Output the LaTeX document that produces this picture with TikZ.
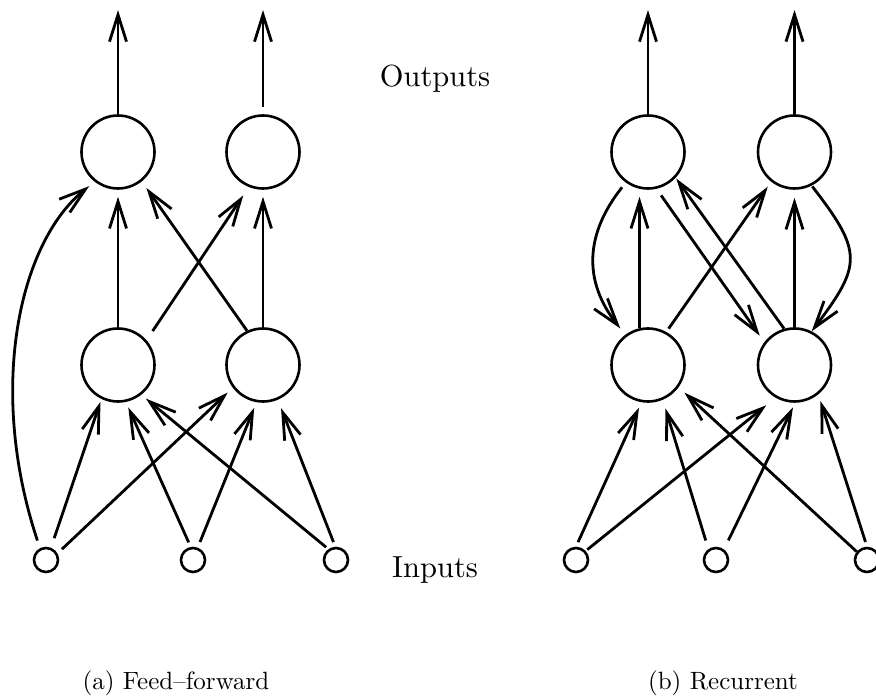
\documentclass[tikz,border=0pt]{standalone}
\usepackage{graphicx}
\usetikzlibrary{arrows.meta}

\tikzset{
  unit/.style={circle, draw, line width=2.6pt, minimum size=73pt, inner sep=0pt},
  inp/.style={circle, draw, line width=2.6pt, minimum size=24pt, inner sep=0pt},
  conn/.style={line width=2.8pt, -{Straight Barb[length=27pt,width=17pt]}},
  lbl/.style={inner sep=0pt, anchor=base},
}

\begin{document}
\begin{tikzpicture}[x=1pt, y=-1pt]
\useasboundingbox (0,0) rectangle (876,700);

% ---------- (a) feed-forward network ----------
\node[unit] (lO1) at (118,152) {};
\node[unit] (lO2) at (263,152) {};
\node[unit] (lH1) at (118,365) {};
\node[unit] (lH2) at (263,365) {};
\node[inp] (lI1) at (46,560) {};
\node[inp] (lI2) at (193,560) {};
\node[inp] (lI3) at (336,560) {};
\coordinate (lo1top) at (118,10);
\coordinate (lo2top) at (263,10);

% outputs
\draw[conn] (lO1) -- (lo1top);
\draw[conn, shorten <=7pt] (lO2) -- (lo2top);
% hidden to output
\draw[conn, shorten >=7pt] (lH1) -- (lO1);
\draw[conn, shorten >=7pt] (lH2) -- (lO2);
\draw[conn, shorten <=11pt, shorten >=10pt] (lH1.41) -- (lO2.248);
\draw[conn, shorten >=8pt] (lH2.115) -- (lO1.309);
% direct input to output connection
\draw[conn, shorten <=8pt, shorten >=7pt] (lI1.117) .. controls (-13,389) and (19,242) .. (lO1.232);
% inputs to hidden
\draw[conn, shorten <=10pt, shorten >=3pt] (lI1.68) -- (lH1.244);
\draw[conn, shorten <=6pt, shorten >=7pt] (lI1.30) -- (lH2.217);
\draw[conn, shorten <=5pt, shorten >=6pt] (lI2.100) -- (lH1.282);
\draw[conn, shorten <=6pt, shorten >=6pt] (lI2.69) -- (lH2.260);
\draw[conn, shorten <=3pt, shorten >=6pt] (lI3.125) -- (lH1.308);
\draw[conn, shorten <=5pt, shorten >=9pt] (lI3.93) -- (lH2.293);

% ---------- (b) recurrent network ----------
\node[unit] (rO1) at (648,152) {};
\node[unit] (rO2) at (794.5,152) {};
\node[unit] (rH1) at (648,365) {};
\node[unit] (rH2) at (794.5,365) {};
\node[inp] (rI1) at (576,560) {};
\node[inp] (rI2) at (716,560) {};
\node[inp] (rI3) at (867,560) {};
\coordinate (ro1top) at (648,10);
\coordinate (ro2top) at (794.5,10);

% outputs
\draw[conn] (rO1) -- (ro1top);
\draw[conn] (rO2) -- (ro2top);
% hidden to output
\draw[conn, shorten >=8pt] (rH1.103) -- (rO1.257);
\draw[conn, shorten >=8pt] (rH2) -- (rO2);
\draw[conn, shorten <=4pt, shorten >=6pt] (rH1.61) -- (rO2.232);
\draw[conn, shorten >=1pt] (rH2.106) -- (rO1.317);
% feedback from output to hidden
\draw[conn, shorten <=6pt, shorten >=8pt] (rO1.234) .. controls (585,234) and (583,281) .. (rH1.127);
\draw[conn, shorten <=1pt] (rO2.297) .. controls (863,252) and (862,265) .. (rH2.63);
\draw[conn, shorten <=8pt, shorten >=8pt] (rO1.283) -- (rH2.143);
% inputs to hidden
\draw[conn, shorten <=5pt, shorten >=6pt] (rI1.90) -- (rH1.260);
\draw[conn, shorten <=2pt, shorten >=12pt] (rI1.43) -- (rH2.240);
\draw[conn, shorten <=9pt, shorten >=9pt] (rI2.125) -- (rH1.293);
\draw[conn, shorten <=10pt, shorten >=5pt] (rI2.53) -- (rH2.271);
\draw[conn, shorten >=8pt] (rI3.141) -- (rH1.324);
\draw[conn, shorten <=5pt, shorten >=7pt] (rI3.90) -- (rH2.309);

% ---------- labels ----------
\node[lbl] (outlbl) at (435,87) {\scalebox{3.05}{Outputs}};
\node[lbl] (inlbl) at (435,577) {\scalebox{3.05}{Inputs}};
\node[lbl] (capa) at (176,689) {\scalebox{2.5}{(a) Feed--forward}};
\node[lbl] (capb) at (723,689) {\scalebox{2.5}{(b) Recurrent}};
\end{tikzpicture}
\end{document}
